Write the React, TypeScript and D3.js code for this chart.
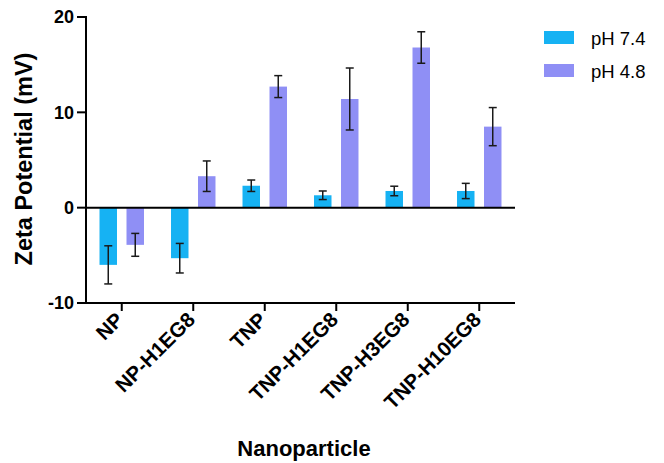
import React from "react";
import * as d3 from "d3";

const categories = ["NP", "NP-H1EG8", "TNP", "TNP-H1EG8", "TNP-H3EG8", "TNP-H10EG8"];
const seriesNames = ["pH 7.4", "pH 4.8"];
const ph74Values = [-6.0, -5.3, 2.3, 1.3, 1.75, 1.75];
const ph74Errors = [2.0, 1.55, 0.6, 0.45, 0.5, 0.8];
const ph48Values = [-3.9, 3.3, 12.7, 11.4, 16.8, 8.5];
const ph48Errors = [1.2, 1.6, 1.15, 3.25, 1.65, 2.0];
const yTicks = [-10, 0, 10, 20];
const colors = ["#16b2f3", "#8f8ff5"];

const W = 664;
const H = 463;
const left = 86;
const right = 515;
const top = 17;
const bottom = 303;
const FONT = "'Liberation Sans', Arial, Helvetica, sans-serif";

export default function App() {
  const x = d3.scaleBand<string>().domain(categories).range([left, right]).padding(0);
  const x1 = d3
    .scaleBand<string>()
    .domain(seriesNames)
    .range([x.bandwidth() * 0.189, x.bandwidth() * 0.811])
    .paddingInner(0.352)
    .paddingOuter(0);
  const y = d3.scaleLinear().domain([-10, 20]).range([bottom, top]);
  const values = [ph74Values, ph48Values];
  const errors = [ph74Errors, ph48Errors];
  const cap = 4;

  return (
    <svg
      width={W}
      height={H}
      style={{ position: "absolute", left: 0, top: 0, background: "#fff" }}
      fontFamily={FONT}
    >
      {/* bars */}
      {categories.map((c, i) =>
        seriesNames.map((s, k) => {
          const v = values[k][i];
          const bx = (x(c) as number) + (x1(s) as number);
          const bw = x1.bandwidth();
          return (
            <rect
              key={c + s}
              x={bx}
              y={Math.min(y(v), y(0))}
              width={bw}
              height={Math.abs(y(v) - y(0))}
              fill={colors[k]}
            />
          );
        })
      )}
      {/* error bars */}
      {categories.map((c, i) =>
        seriesNames.map((s, k) => {
          const v = values[k][i];
          const e = errors[k][i];
          const cx = (x(c) as number) + (x1(s) as number) + x1.bandwidth() / 2;
          const y1 = y(v + e);
          const y2 = y(v - e);
          return (
            <g key={"e" + c + s} stroke="#1a1a1a" strokeWidth={1.5}>
              <line x1={cx} x2={cx} y1={y1} y2={y2} />
              <line x1={cx - cap} x2={cx + cap} y1={y1} y2={y1} />
              <line x1={cx - cap} x2={cx + cap} y1={y2} y2={y2} />
            </g>
          );
        })
      )}
      {/* zero line */}
      <line x1={left} x2={right} y1={y(0)} y2={y(0)} stroke="#000" strokeWidth={2} />
      {/* y axis */}
      <line x1={left} x2={left} y1={top - 1} y2={bottom + 1} stroke="#000" strokeWidth={2} />
      {yTicks.map((t) => (
        <g key={"yt" + t}>
          <line x1={left - 9} x2={left} y1={y(t)} y2={y(t)} stroke="#000" strokeWidth={2} />
          <text
            x={left - 12}
            y={y(t)}
            dy="0.36em"
            textAnchor="end"
            fontSize={18}
            fontWeight="bold"
            fill="#000"
          >
            {t}
          </text>
        </g>
      ))}
      {/* x axis */}
      <line x1={left - 1} x2={right} y1={bottom} y2={bottom} stroke="#000" strokeWidth={2} />
      {categories.map((c) => {
        const cx = (x(c) as number) + x.bandwidth() / 2;
        return (
          <g key={"xt" + c}>
            <line x1={cx} x2={cx} y1={bottom} y2={bottom + 8} stroke="#000" strokeWidth={2} />
            <text
              transform={`translate(${cx + 3},${bottom + 18}) rotate(-45)`}
              textAnchor="end"
              fontSize={20.5}
              fontWeight="bold"
              fill="#000"
            >
              {c}
            </text>
          </g>
        );
      })}
      {/* axis titles */}
      <text
        transform={`translate(32,159) rotate(-90)`}
        textAnchor="middle"
        fontSize={23.5}
        fontWeight="bold"
        fill="#000"
      >
        Zeta Potential (mV)
      </text>
      <text x={304} y={456} textAnchor="middle" fontSize={22} fontWeight="bold" fill="#000">
        Nanoparticle
      </text>
      {/* legend */}
      {seriesNames.map((s, k) => (
        <g key={"lg" + s} transform={`translate(544,${31 + k * 33})`}>
          <rect x={0} y={0} width={30} height={13} fill={colors[k]} />
          <text x={47} y={13.5} fontSize={18.5} fill="#000">
            {s}
          </text>
        </g>
      ))}
    </svg>
  );
}
